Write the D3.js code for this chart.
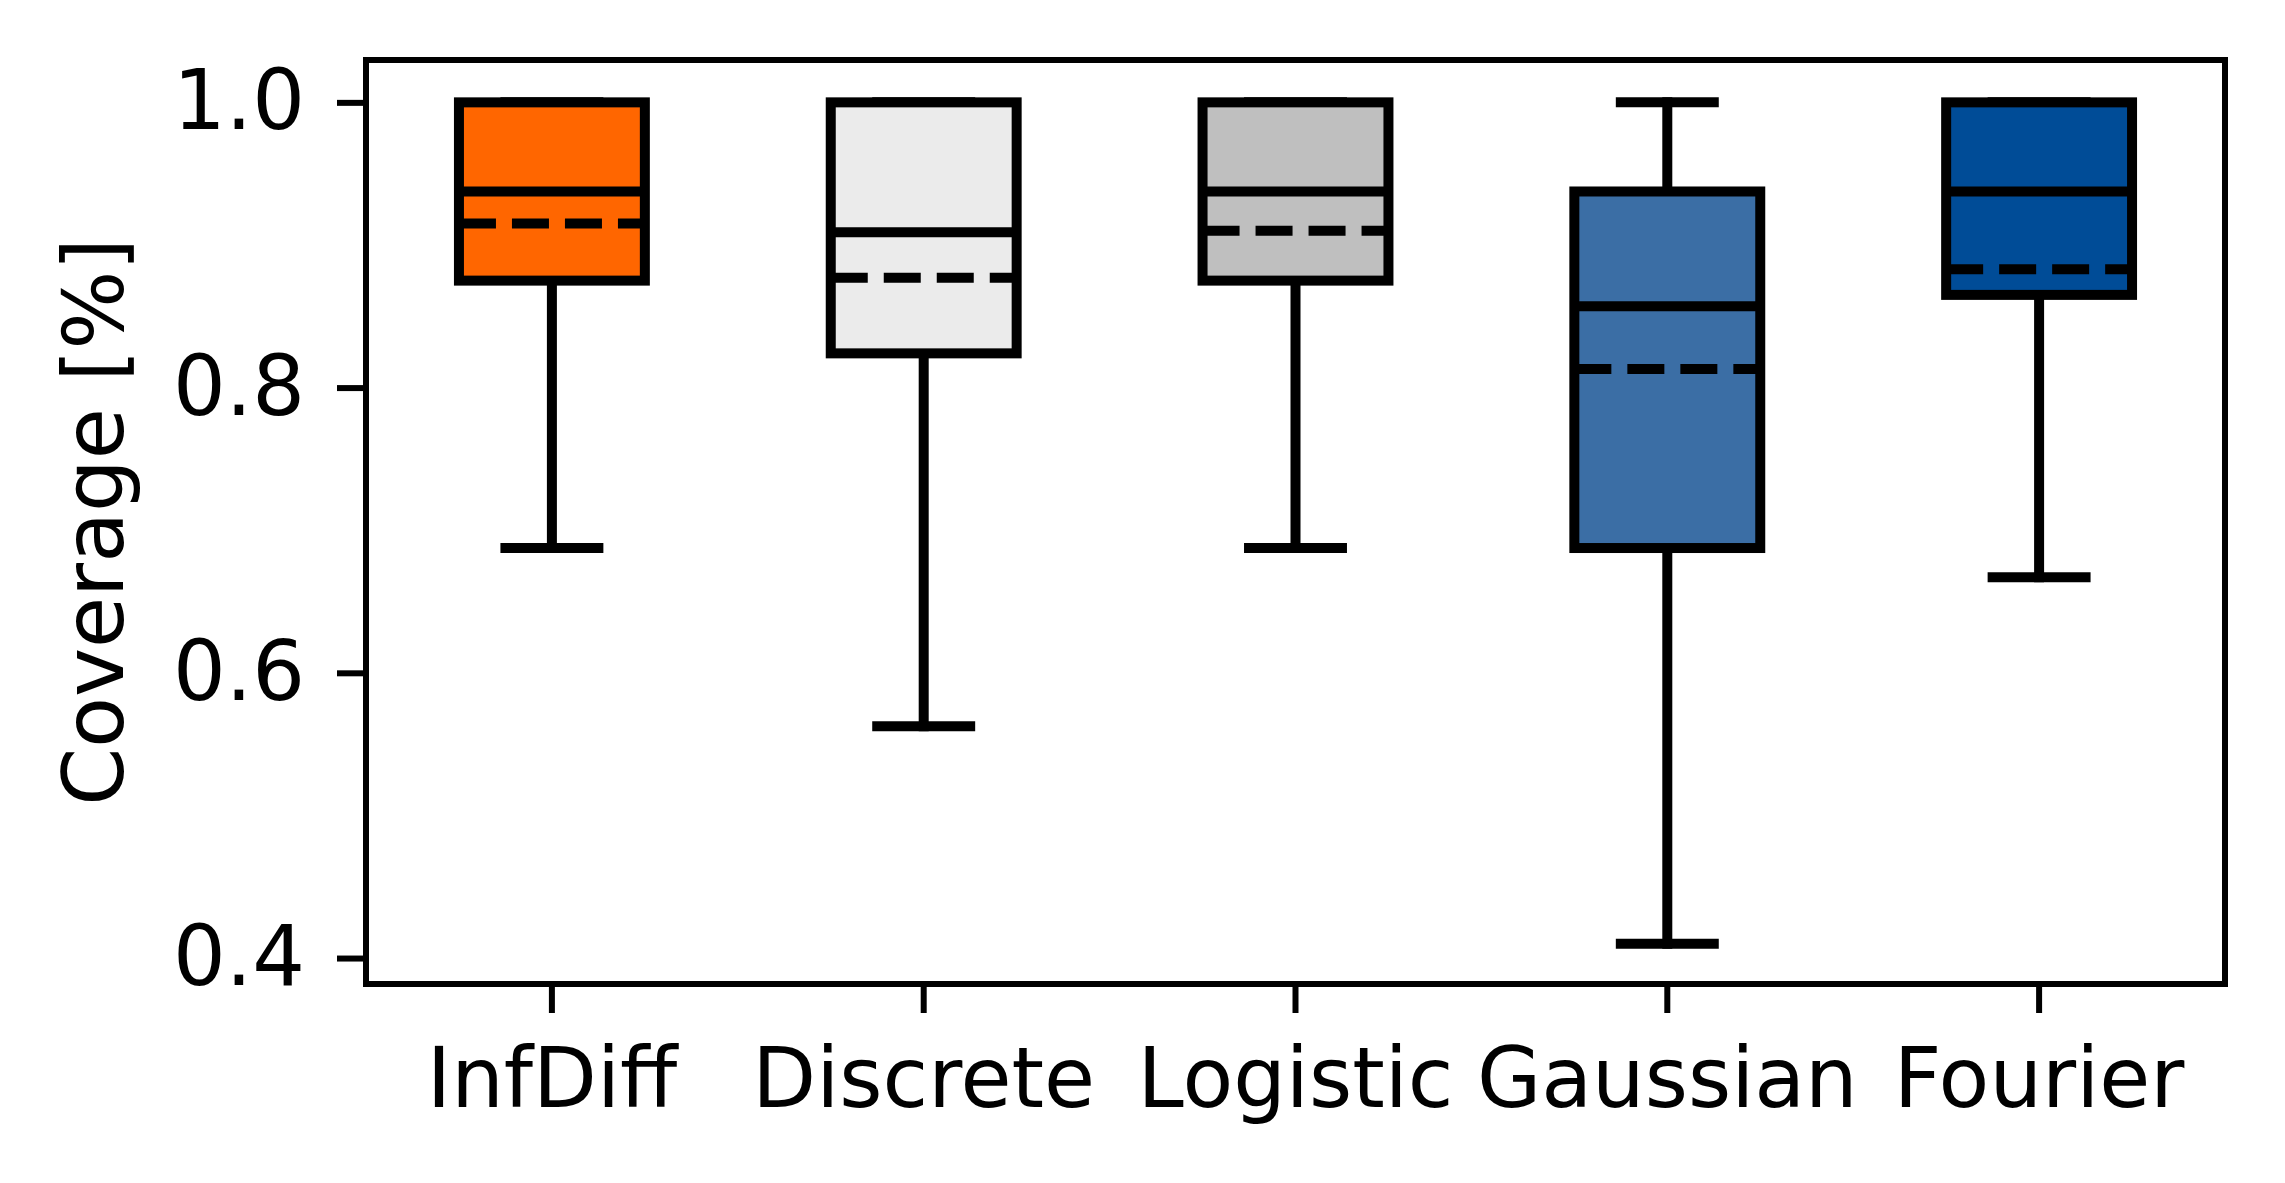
<!DOCTYPE html>
<html>
<head>
<meta charset="utf-8">
<script src="https://cdn.jsdelivr.net/npm/d3@7"></script>
<style>
  html, body { margin: 0; padding: 0; background: #fff; }
  svg { display: block; }
  text { font-family: "DejaVu Sans", sans-serif; }
</style>
</head>
<body>
<script>
// ---- data ----
const categories   = ["InfDiff", "Discrete", "Logistic", "Gaussian", "Fourier"];
const whiskerLow   = [0.6875, 0.5625, 0.6875, 0.41,   0.667];
const q1Values     = [0.875,  0.824,  0.875,  0.6875, 0.865];
const medianValues = [0.9375, 0.909,  0.9375, 0.857,  0.9375];
const q3Values     = [1.0,    1.0,    1.0,    0.9375, 1.0];
const whiskerHigh  = [1.0,    1.0,    1.0,    1.0,    1.0];
const meanValues   = [0.915,  0.877,  0.910,  0.813,  0.883];
const boxColors    = ["#ff6600", "#ebebeb", "#bfbfbf", "#3b6ea5", "#004c97"];
const yTicks       = [0.4, 0.6, 0.8, 1.0];
const yLabel       = "Coverage [%]";

const W = 2285, H = 1183;
const plot = { left: 366, right: 2225, top: 60, bottom: 984 };

const svg = d3.select("body").append("svg").attr("width", W).attr("height", H);
svg.append("rect").attr("width", W).attr("height", H).attr("fill", "#fff");

const x = d3.scaleBand().domain(categories).range([plot.left, plot.right]).padding(0);
const y = d3.scaleLinear().domain([0.3818, 1.0297]).range([plot.bottom, plot.top]);

const bw = x.bandwidth();
const boxW = bw * 0.5;
const capW = bw * 0.25;
const LW = 10;

const rows = categories.map((c, i) => ({
  c, lo: whiskerLow[i], q1: q1Values[i], med: medianValues[i], q3: q3Values[i],
  hi: whiskerHigh[i], mean: meanValues[i], color: boxColors[i],
  cx: x(c) + bw / 2
}));

const g = svg.append("g");

// whiskers
g.selectAll(".wlo").data(rows).join("line")
  .attr("x1", d => d.cx).attr("x2", d => d.cx)
  .attr("y1", d => y(d.q1)).attr("y2", d => y(d.lo))
  .attr("stroke", "#000").attr("stroke-width", LW).attr("stroke-linecap", "square");
g.selectAll(".whi").data(rows.filter(d => d.hi > d.q3)).join("line")
  .attr("x1", d => d.cx).attr("x2", d => d.cx)
  .attr("y1", d => y(d.q3)).attr("y2", d => y(d.hi))
  .attr("stroke", "#000").attr("stroke-width", LW).attr("stroke-linecap", "square");

// caps
g.selectAll(".caplo").data(rows).join("line")
  .attr("x1", d => d.cx - capW / 2).attr("x2", d => d.cx + capW / 2)
  .attr("y1", d => y(d.lo)).attr("y2", d => y(d.lo))
  .attr("stroke", "#000").attr("stroke-width", LW).attr("stroke-linecap", "square");
g.selectAll(".caphi").data(rows).join("line")
  .attr("x1", d => d.cx - capW / 2).attr("x2", d => d.cx + capW / 2)
  .attr("y1", d => y(d.hi)).attr("y2", d => y(d.hi))
  .attr("stroke", "#000").attr("stroke-width", LW).attr("stroke-linecap", "square");

// boxes
g.selectAll(".box").data(rows).join("rect")
  .attr("x", d => d.cx - boxW / 2).attr("width", boxW)
  .attr("y", d => y(d.q3)).attr("height", d => y(d.q1) - y(d.q3))
  .attr("fill", d => d.color).attr("stroke", "#000").attr("stroke-width", LW)
  .attr("stroke-linejoin", "miter");

// medians
g.selectAll(".med").data(rows).join("line")
  .attr("x1", d => d.cx - boxW / 2).attr("x2", d => d.cx + boxW / 2)
  .attr("y1", d => y(d.med)).attr("y2", d => y(d.med))
  .attr("stroke", "#000").attr("stroke-width", LW);

// means (dashed)
g.selectAll(".mean").data(rows).join("line")
  .attr("x1", d => d.cx - boxW / 2).attr("x2", d => d.cx + boxW / 2)
  .attr("y1", d => y(d.mean)).attr("y2", d => y(d.mean))
  .attr("stroke", "#000").attr("stroke-width", LW)
  .attr("stroke-dasharray", "37,16");

// axes
const yAxis = d3.axisLeft(y).tickValues(yTicks).tickFormat(d3.format(".1f"))
  .tickSize(29).tickPadding(32);
const yg = svg.append("g").attr("transform", `translate(${plot.left},0)`).call(yAxis);
const xAxis = d3.axisBottom(x).tickSize(29).tickPadding(35);
const xg = svg.append("g").attr("transform", `translate(0,${plot.bottom})`).call(xAxis);

[yg, xg].forEach(a => {
  a.select(".domain").remove();
  a.selectAll(".tick line").attr("stroke", "#000").attr("stroke-width", 6);
  a.selectAll(".tick text").attr("fill", "#000")
    .style("font-family", '"DejaVu Sans", sans-serif').style("font-size", "83px");
});

// frame
svg.append("rect")
  .attr("x", plot.left).attr("y", plot.top)
  .attr("width", plot.right - plot.left).attr("height", plot.bottom - plot.top)
  .attr("fill", "none").attr("stroke", "#000").attr("stroke-width", 6);

// y label
svg.append("text")
  .attr("transform", `translate(123,${(plot.top + plot.bottom) / 2}) rotate(-90)`)
  .attr("text-anchor", "middle")
  .style("font-size", "83px").attr("fill", "#000")
  .text(yLabel);
</script>
</body>
</html>
